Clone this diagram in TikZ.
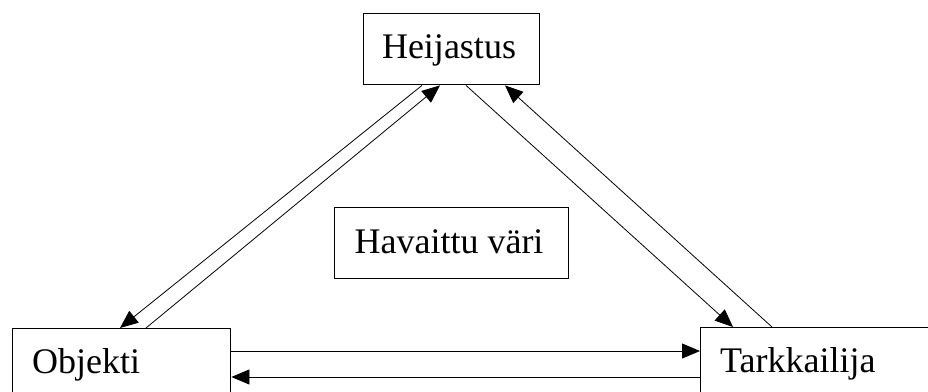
\documentclass[tikz,border=0pt]{standalone}
\usepackage{fontspec}
\setmainfont{Liberation Serif}
\usetikzlibrary{arrows.meta,calc}
\begin{document}
\begin{tikzpicture}[x=1pt,y=-1pt,
  box/.style={draw=black,line width=1.4pt,inner sep=0pt,anchor=north west},
  lbl/.style={inner sep=0pt,font=\fontsize{36}{40}\selectfont},
  flow/.style={line width=0.8pt,-{Triangle[length=18pt,width=15pt]}}]
  \path[use as bounding box,clip] (0,0) rectangle (928,391);
  \fill[white] (0,0) rectangle (928,391);

  % boxes
  \node[box,minimum width=176pt,minimum height=71pt] (heij) at (363,13) {};
  \node[box,minimum width=234pt,minimum height=71pt] (hav) at (334,207) {};
  \node[box,minimum width=218pt,minimum height=90pt] (obj) at (12,328) {};
  \node[box,minimum width=260pt,minimum height=90pt] (tark) at (700,327) {};

  % labels
  \node[lbl,anchor=base] (heijt) at (449,58) {Heijastus};
  \node[lbl,anchor=base] (havt) at (449,253) {Havaittu väri};
  \node[lbl,anchor=base west] (objt) at (32,373) {Objekti};
  \node[lbl,anchor=base west] (tarkt) at (720,372) {Tarkkailija};

  % Heijastus <-> Objekti
  \draw[flow] ($(heij.south west)+(59,0)$) -- ($(obj.north west)+(108,0)$);
  \draw[flow] ($(obj.north west)+(134,0)$) -- ($(heij.south west)+(77,0)$);
  % Heijastus <-> Tarkkailija
  \draw[flow] ($(heij.south west)+(103,0)$) -- ($(tark.north west)+(33,0)$);
  \draw[flow] ($(tark.north west)+(72,0)$) -- ($(heij.south west)+(142,0)$);
  % Objekti <-> Tarkkailija
  \draw[flow] ($(obj.north east)+(0,23)$) -- ($(tark.north west)+(0,24)$);
  \draw[flow] ($(tark.north west)+(0,50)$) -- ($(obj.north east)+(0,49)$);
\end{tikzpicture}
\end{document}
